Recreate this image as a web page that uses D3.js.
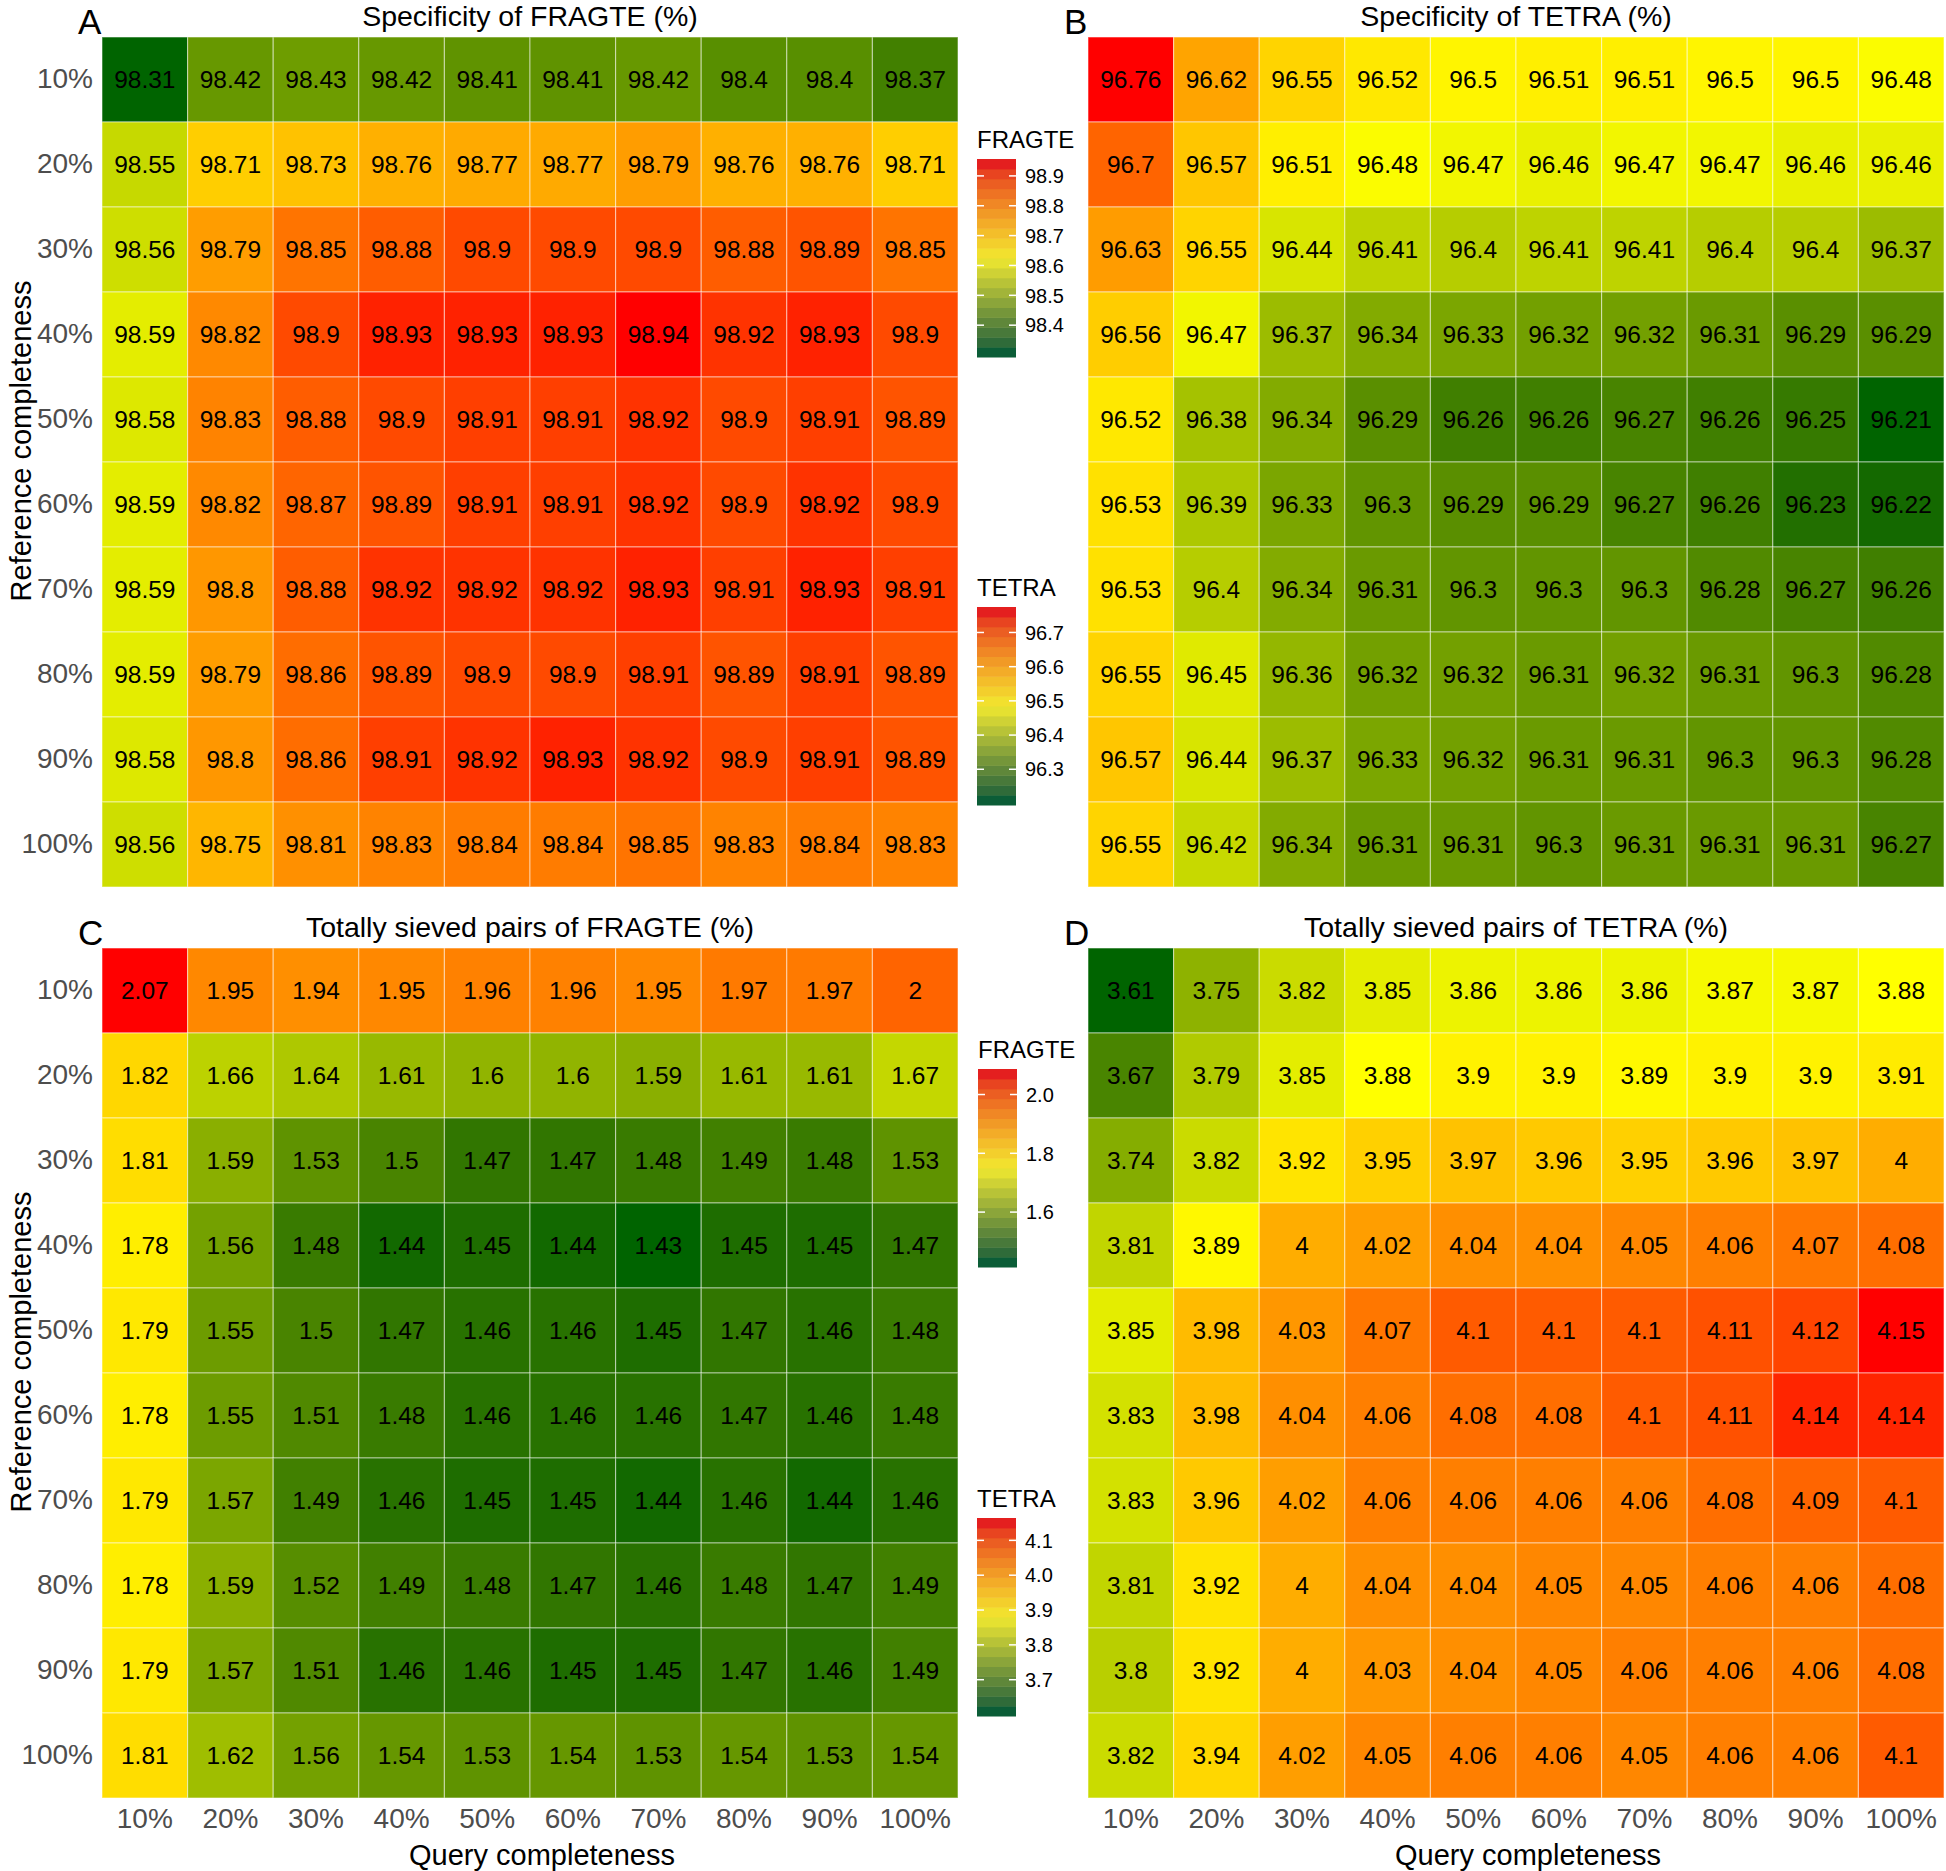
<!DOCTYPE html>
<html>
<head>
<meta charset="utf-8">
<script src="https://cdn.jsdelivr.net/npm/d3@7"></script>
<style>
  body { margin: 0; background: #fff; }
  svg { font-family: "Liberation Sans", Arial, sans-serif; }
</style>
</head>
<body>
<svg id="heat" width="1946" height="1871"></svg>
<script>
// completeness levels (rows = reference, cols = query)
const levels = ["10%", "20%", "30%", "40%", "50%", "60%", "70%", "80%", "90%", "100%"];

// A: specificity of FRAGTE (%)
const specFragte = [
  [98.31, 98.42, 98.43, 98.42, 98.41, 98.41, 98.42, 98.4, 98.4, 98.37],
  [98.55, 98.71, 98.73, 98.76, 98.77, 98.77, 98.79, 98.76, 98.76, 98.71],
  [98.56, 98.79, 98.85, 98.88, 98.9, 98.9, 98.9, 98.88, 98.89, 98.85],
  [98.59, 98.82, 98.9, 98.93, 98.93, 98.93, 98.94, 98.92, 98.93, 98.9],
  [98.58, 98.83, 98.88, 98.9, 98.91, 98.91, 98.92, 98.9, 98.91, 98.89],
  [98.59, 98.82, 98.87, 98.89, 98.91, 98.91, 98.92, 98.9, 98.92, 98.9],
  [98.59, 98.8, 98.88, 98.92, 98.92, 98.92, 98.93, 98.91, 98.93, 98.91],
  [98.59, 98.79, 98.86, 98.89, 98.9, 98.9, 98.91, 98.89, 98.91, 98.89],
  [98.58, 98.8, 98.86, 98.91, 98.92, 98.93, 98.92, 98.9, 98.91, 98.89],
  [98.56, 98.75, 98.81, 98.83, 98.84, 98.84, 98.85, 98.83, 98.84, 98.83]
];

// B: specificity of TETRA (%)
const specTetra = [
  [96.76, 96.62, 96.55, 96.52, 96.5, 96.51, 96.51, 96.5, 96.5, 96.48],
  [96.7, 96.57, 96.51, 96.48, 96.47, 96.46, 96.47, 96.47, 96.46, 96.46],
  [96.63, 96.55, 96.44, 96.41, 96.4, 96.41, 96.41, 96.4, 96.4, 96.37],
  [96.56, 96.47, 96.37, 96.34, 96.33, 96.32, 96.32, 96.31, 96.29, 96.29],
  [96.52, 96.38, 96.34, 96.29, 96.26, 96.26, 96.27, 96.26, 96.25, 96.21],
  [96.53, 96.39, 96.33, 96.3, 96.29, 96.29, 96.27, 96.26, 96.23, 96.22],
  [96.53, 96.4, 96.34, 96.31, 96.3, 96.3, 96.3, 96.28, 96.27, 96.26],
  [96.55, 96.45, 96.36, 96.32, 96.32, 96.31, 96.32, 96.31, 96.3, 96.28],
  [96.57, 96.44, 96.37, 96.33, 96.32, 96.31, 96.31, 96.3, 96.3, 96.28],
  [96.55, 96.42, 96.34, 96.31, 96.31, 96.3, 96.31, 96.31, 96.31, 96.27]
];

// C: totally sieved pairs of FRAGTE (%)
const sievedFragte = [
  [2.07, 1.95, 1.94, 1.95, 1.96, 1.96, 1.95, 1.97, 1.97, 2],
  [1.82, 1.66, 1.64, 1.61, 1.6, 1.6, 1.59, 1.61, 1.61, 1.67],
  [1.81, 1.59, 1.53, 1.5, 1.47, 1.47, 1.48, 1.49, 1.48, 1.53],
  [1.78, 1.56, 1.48, 1.44, 1.45, 1.44, 1.43, 1.45, 1.45, 1.47],
  [1.79, 1.55, 1.5, 1.47, 1.46, 1.46, 1.45, 1.47, 1.46, 1.48],
  [1.78, 1.55, 1.51, 1.48, 1.46, 1.46, 1.46, 1.47, 1.46, 1.48],
  [1.79, 1.57, 1.49, 1.46, 1.45, 1.45, 1.44, 1.46, 1.44, 1.46],
  [1.78, 1.59, 1.52, 1.49, 1.48, 1.47, 1.46, 1.48, 1.47, 1.49],
  [1.79, 1.57, 1.51, 1.46, 1.46, 1.45, 1.45, 1.47, 1.46, 1.49],
  [1.81, 1.62, 1.56, 1.54, 1.53, 1.54, 1.53, 1.54, 1.53, 1.54]
];

// D: totally sieved pairs of TETRA (%)
const sievedTetra = [
  [3.61, 3.75, 3.82, 3.85, 3.86, 3.86, 3.86, 3.87, 3.87, 3.88],
  [3.67, 3.79, 3.85, 3.88, 3.9, 3.9, 3.89, 3.9, 3.9, 3.91],
  [3.74, 3.82, 3.92, 3.95, 3.97, 3.96, 3.95, 3.96, 3.97, 4],
  [3.81, 3.89, 4, 4.02, 4.04, 4.04, 4.05, 4.06, 4.07, 4.08],
  [3.85, 3.98, 4.03, 4.07, 4.1, 4.1, 4.1, 4.11, 4.12, 4.15],
  [3.83, 3.98, 4.04, 4.06, 4.08, 4.08, 4.1, 4.11, 4.14, 4.14],
  [3.83, 3.96, 4.02, 4.06, 4.06, 4.06, 4.06, 4.08, 4.09, 4.1],
  [3.81, 3.92, 4, 4.04, 4.04, 4.05, 4.05, 4.06, 4.06, 4.08],
  [3.8, 3.92, 4, 4.03, 4.04, 4.05, 4.06, 4.06, 4.06, 4.08],
  [3.82, 3.94, 4.02, 4.05, 4.06, 4.06, 4.05, 4.06, 4.06, 4.1]
];

// legend breaks
const ticksSpecFragte = [98.4, 98.5, 98.6, 98.7, 98.8, 98.9];
const ticksSpecTetra = [96.3, 96.4, 96.5, 96.6, 96.7];
const ticksSievedFragte = [1.6, 1.8, 2.0];
const ticksSievedTetra = [3.7, 3.8, 3.9, 4.0, 4.1];

const svg = d3.select("#heat");

const cellW = 85.6,
  cellH = 85,
  tileColors = ["#006400", "#ffff00", "#ff0000"],
  legendColors = ["#0b5d37", "#f1e92f", "#e41f1f"],
  nbin = 20;

const panels = [
  { letter: "A", title: "Specificity of FRAGTE (%)", data: specFragte, x0: 102, y0: 37, yAxis: true, xAxis: false,
    legend: { name: "FRAGTE", x: 977, y: 159, ticks: ticksSpecFragte } },
  { letter: "B", title: "Specificity of TETRA (%)", data: specTetra, x0: 1088, y0: 37, yAxis: false, xAxis: false,
    legend: { name: "TETRA", x: 977, y: 607, ticks: ticksSpecTetra } },
  { letter: "C", title: "Totally sieved pairs of FRAGTE (%)", data: sievedFragte, x0: 102, y0: 948, yAxis: true, xAxis: true,
    legend: { name: "FRAGTE", x: 978, y: 1069, ticks: ticksSievedFragte } },
  { letter: "D", title: "Totally sieved pairs of TETRA (%)", data: sievedTetra, x0: 1088, y0: 948, yAxis: false, xAxis: true,
    legend: { name: "TETRA", x: 977, y: 1518, ticks: ticksSievedTetra } }
];

panels.forEach(function (p) {
  const w = cellW * levels.length,
    h = cellH * levels.length;

  const x = d3.scaleBand().domain(levels).range([p.x0, p.x0 + w]);
  const y = d3.scaleBand().domain(levels).range([p.y0, p.y0 + h]);

  const flat = [];
  p.data.forEach(function (row, i) {
    row.forEach(function (v, j) {
      flat.push({ row: levels[i], col: levels[j], value: v });
    });
  });

  const ext = d3.extent(flat, d => d.value);
  const color = d3
    .scaleLinear()
    .domain([ext[0], (ext[0] + ext[1]) / 2, ext[1]])
    .range(tileColors)
    .interpolate(d3.interpolateLab);

  const g = svg.append("g").attr("class", "panel");

  // tiles
  g.selectAll("rect.tile")
    .data(flat)
    .enter()
    .append("rect")
    .attr("class", "tile")
    .attr("x", d => x(d.col))
    .attr("y", d => y(d.row))
    .attr("width", x.bandwidth())
    .attr("height", y.bandwidth())
    .attr("fill", d => color(d.value))
    .attr("stroke", "rgba(255,255,255,0.45)")
    .attr("stroke-width", 1.2);

  // cell labels
  g.selectAll("text.val")
    .data(flat)
    .enter()
    .append("text")
    .attr("class", "val")
    .attr("x", d => x(d.col) + x.bandwidth() / 2)
    .attr("y", d => y(d.row) + y.bandwidth() / 2)
    .attr("dy", "0.36em")
    .attr("text-anchor", "middle")
    .attr("font-size", 24.5)
    .attr("fill", "#000")
    .text(d => d.value);

  // panel title and letter
  g.append("text")
    .attr("x", p.x0 + w / 2)
    .attr("y", p.y0 - 11)
    .attr("text-anchor", "middle")
    .attr("font-size", 28.5)
    .text(p.title);

  g.append("text")
    .attr("x", p.x0 - 24)
    .attr("y", p.y0 - 3)
    .attr("font-size", 35)
    .text(p.letter);

  // y axis labels
  if (p.yAxis) {
    g.selectAll("text.ytick")
      .data(levels)
      .enter()
      .append("text")
      .attr("class", "ytick")
      .attr("x", p.x0 - 9)
      .attr("y", d => y(d) + y.bandwidth() / 2 + 8)
      .attr("text-anchor", "end")
      .attr("font-size", 28)
      .attr("fill", "#4d4d4d")
      .text(d => d);

    g.append("text")
      .attr("transform", "translate(31," + (p.y0 + h / 2 - 21) + ") rotate(-90)")
      .attr("text-anchor", "middle")
      .attr("font-size", 29)
      .text("Reference completeness");
  }

  // x axis labels
  if (p.xAxis) {
    g.selectAll("text.xtick")
      .data(levels)
      .enter()
      .append("text")
      .attr("class", "xtick")
      .attr("x", d => x(d) + x.bandwidth() / 2)
      .attr("y", p.y0 + h + 30)
      .attr("text-anchor", "middle")
      .attr("font-size", 28)
      .attr("fill", "#4d4d4d")
      .text(d => d);

    g.append("text")
      .attr("x", p.x0 + w / 2 + 12)
      .attr("y", p.y0 + h + 67)
      .attr("text-anchor", "middle")
      .attr("font-size", 29)
      .text("Query completeness");
  }

  // colourbar legend (20 bins, bar extends half a bin past the limits)
  const lg = p.legend,
    barW = 39,
    barH = 198,
    half = (ext[1] - ext[0]) / (2 * (nbin - 1));

  const lScale = d3
    .scaleLinear()
    .domain([ext[0] - half, ext[1] + half])
    .range([lg.y + barH, lg.y]);

  const lColor = d3
    .scaleLinear()
    .domain([ext[0], (ext[0] + ext[1]) / 2, ext[1]])
    .range(legendColors)
    .interpolate(d3.interpolateLab);

  const bins = d3.range(nbin).map(i => ext[0] + i * (ext[1] - ext[0]) / (nbin - 1));
  const binH = barH / nbin;

  const legend = svg.append("g").attr("class", "legend");

  legend
    .append("text")
    .attr("x", lg.x)
    .attr("y", lg.y - 11)
    .attr("font-size", 24)
    .text(lg.name);

  legend
    .selectAll("rect")
    .data(bins)
    .enter()
    .append("rect")
    .attr("x", lg.x)
    .attr("y", d => lScale(d) - binH / 2)
    .attr("width", barW)
    .attr("height", binH + 0.5)
    .attr("fill", d => lColor(d));

  lg.ticks.forEach(function (t) {
    const ty = lScale(t);
    legend.append("line")
      .attr("x1", lg.x).attr("x2", lg.x + 7)
      .attr("y1", ty).attr("y2", ty)
      .attr("stroke", "#fff").attr("stroke-width", 1.5);
    legend.append("line")
      .attr("x1", lg.x + barW - 7).attr("x2", lg.x + barW)
      .attr("y1", ty).attr("y2", ty)
      .attr("stroke", "#fff").attr("stroke-width", 1.5);
    legend.append("text")
      .attr("x", lg.x + barW + 9)
      .attr("y", ty)
      .attr("dy", "0.36em")
      .attr("font-size", 20)
      .text(d3.format(".1f")(t));
  });
});
</script>
</body>
</html>
